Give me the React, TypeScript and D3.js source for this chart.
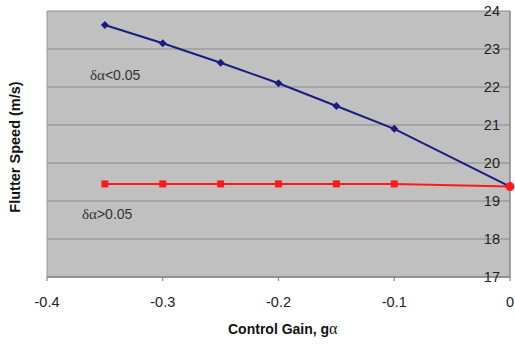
import React from "react";
import * as d3 from "d3";

const gains = [-0.35, -0.3, -0.25, -0.2, -0.15, -0.1, 0];
const lowDelta = [23.63, 23.15, 22.64, 22.1, 21.5, 20.9, 19.38];
const highDelta = [19.45, 19.45, 19.45, 19.45, 19.45, 19.45, 19.38];
const xTicks = [-0.4, -0.3, -0.2, -0.1, 0];
const yTicks = [17, 18, 19, 20, 21, 22, 23, 24];

const W = 515;
const H = 344;
const L = 47;
const R = 510;
const T = 11;
const B = 277;

export default function App() {
  const x = d3.scaleLinear().domain([-0.4, 0]).range([L, R]);
  const y = d3.scaleLinear().domain([17, 24]).range([B, T]);
  const line = d3
    .line<number>()
    .x((_, i) => x(gains[i]))
    .y((d) => y(d));
  const font = "Liberation Sans, Arial, sans-serif";
  const serif = "Liberation Serif, Times New Roman, serif";
  return (
    <svg
      width={W}
      height={H}
      style={{ position: "absolute", left: 0, top: 0, background: "#fff" }}
      fontFamily={font}
    >
      <rect x={L} y={T} width={R - L} height={B - T} fill="#c0c0c0" />
      {yTicks.map((t) => (
        <line key={"g" + t} x1={L} x2={R} y1={y(t)} y2={y(t)} stroke="#8a8a8a" strokeWidth={1.2} />
      ))}
      <line x1={L} x2={L} y1={T} y2={B} stroke="#9a9a9a" strokeWidth={1} />
      {/* x axis */}
      <line x1={L} x2={R} y1={B} y2={B} stroke="#888" strokeWidth={1.5} />
      {xTicks.map((t) => (
        <g key={"x" + t}>
          <line x1={x(t)} x2={x(t)} y1={B} y2={B + 4} stroke="#888" strokeWidth={1.2} />
          <text x={x(t)} y={307} textAnchor="middle" fontSize={14.5} fill="#222">
            {t === 0 ? "0" : String(t)}
          </text>
        </g>
      ))}
      {/* y axis at x=0 */}
      <line x1={R} x2={R} y1={T} y2={B} stroke="#888" strokeWidth={1.5} />
      {yTicks.map((t) => (
        <text key={"y" + t} x={500} y={y(t) + 5} textAnchor="end" fontSize={14.5} fill="#222">
          {t}
        </text>
      ))}
      {/* series */}
      <path d={line(highDelta) || ""} fill="none" stroke="#ff1a1a" strokeWidth={2} />
      <path d={line(lowDelta) || ""} fill="none" stroke="#1c1c80" strokeWidth={2} />
      {lowDelta.slice(0, -1).map((v, i) => {
        const cx = x(gains[i]);
        const cy = y(v);
        return (
          <path
            key={"d" + i}
            d={`M${cx},${cy - 4}L${cx + 4},${cy}L${cx},${cy + 4}L${cx - 4},${cy}Z`}
            fill="#1c1c80"
          />
        );
      })}
      {highDelta.slice(0, -1).map((v, i) => (
        <rect key={"s" + i} x={x(gains[i]) - 3.5} y={y(v) - 3.5} width={7} height={7} fill="#ff1a1a" />
      ))}
      <circle cx={x(gains[gains.length - 1])} cy={y(highDelta[highDelta.length - 1])} r={4.5} fill="#ff1a1a" />
      {/* annotations */}
      <text x={90} y={80} fontSize={14} fill="#333">
        <tspan fontFamily={serif} fontSize={15}>δα</tspan>&lt;0.05
      </text>
      <text x={82} y={219} fontSize={14} fill="#333">
        <tspan fontFamily={serif} fontSize={15}>δα</tspan>&gt;0.05
      </text>
      {/* titles */}
      <text
        transform={`translate(20,147) rotate(-90)`}
        textAnchor="middle"
        fontSize={14.5}
        fontWeight="bold"
        fill="#111"
      >
        Flutter Speed (m/s)
      </text>
      <text x={228} y={334} fontSize={14} fontWeight="bold" fill="#111">
        Control Gain, g<tspan fontWeight="normal" fontSize={16} fontFamily={serif}>α</tspan>
      </text>
    </svg>
  );
}
